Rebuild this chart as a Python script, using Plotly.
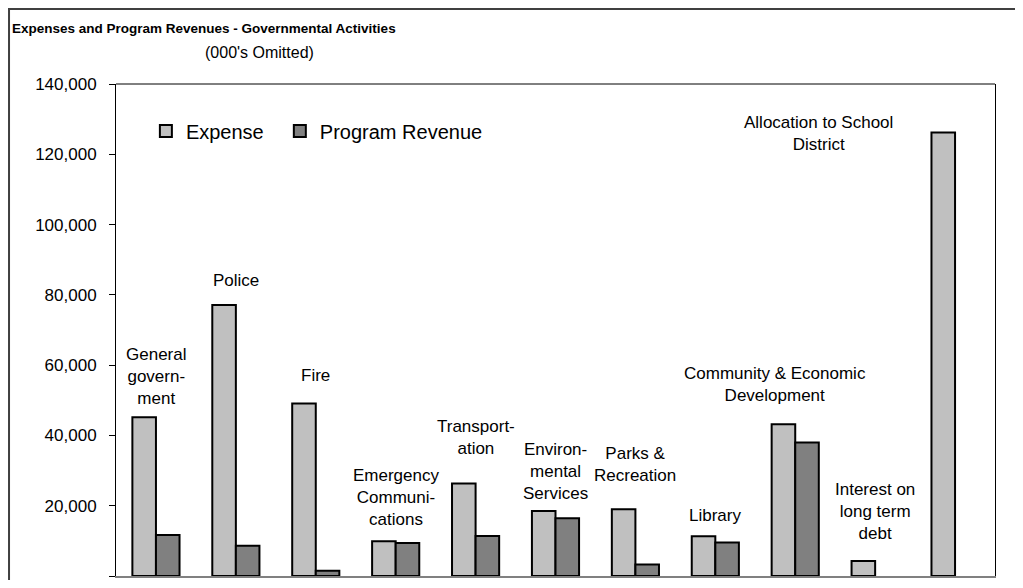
import plotly.graph_objects as go

categories = [
    "General government", "Police", "Fire", "Emergency Communications",
    "Transportation", "Environmental Services", "Parks & Recreation", "Library",
    "Community & Economic Development", "Interest on long term debt",
    "Allocation to School District",
]
expense = [45200, 77100, 49100, 9900, 26300, 18500, 19000, 11300, 43200, 4300, 126200]
# no program revenue bar is drawn for the last two functions
program_revenue = [11700, 8600, 1500, 9400, 11400, 16400, 3300, 9500, 38000, None, None]

# how each label is broken over lines in the original chart
label_text = [
    "General<br>govern-<br>ment", "Police", "Fire", "Emergency<br>Communi-<br>cations",
    "Transport-<br>ation", "Environ-<br>mental<br>Services", "Parks &<br>Recreation",
    "Library", "Community & Economic<br>Development", "Interest on<br>long term<br>debt",
    "Allocation to School<br>District",
]

y_ticks = [0, 20000, 40000, 60000, 80000, 100000, 120000, 140000]
y_tick_text = ["-\u00a0", "20,000", "40,000", "60,000", "80,000", "100,000", "120,000", "140,000"]

# label placement (bottom of text block in data units, horizontal nudge in px)
label_y = [47200, 80800, 53800, 12800, 33000, 20200, 25300, 13900, 48100, 8800, 119500]
label_shift = [0, 0, 0, 0, 0, 0, 0, 0, -20, 0, -137]

FONT = "Liberation Sans, Arial, sans-serif"

fig = go.Figure()
# trailing spaces widen the first legend entry like the original
fig.add_bar(x=categories, y=expense, name="Expense\u00a0\u00a0",
            marker=dict(color="#C0C0C0", line=dict(color="black", width=2)))
fig.add_bar(x=categories, y=program_revenue, name="Program Revenue",
            marker=dict(color="#808080", line=dict(color="black", width=2)))

for cat, txt, ly, dx in zip(categories, label_text, label_y, label_shift):
    fig.add_annotation(x=cat, y=ly, text=txt, showarrow=False, xshift=dx,
                       yanchor="bottom", font=dict(size=17, color="black"))

fig.add_annotation(xref="paper", yref="paper", x=-0.1206, y=1.1138, xanchor="left", yanchor="middle",
                   text="<b>Expenses and Program Revenues - Governmental Activities</b>",
                   showarrow=False, font=dict(size=13.5, color="black"))
fig.add_annotation(xref="paper", yref="paper", x=0.1627, y=1.065, xanchor="center", yanchor="middle",
                   text="(000's Omitted)", showarrow=False, font=dict(size=16, color="black"))

# outer chart border (runs off the right and bottom edges) and top edge of the plot frame
fig.add_shape(type="rect", xref="paper", yref="paper", x0=-0.1217, y0=-0.1, x1=1.2, y1=1.1524,
              line=dict(color="#404040", width=2))
fig.add_shape(type="line", xref="paper", yref="paper", x0=0, y0=1, x1=1, y1=1,
              line=dict(color="black", width=1))

# page body adds an 8px offset, so the figure is sized to fit the window
fig.update_layout(
    width=1007, height=572,
    margin=dict(l=108, r=20, t=76, b=4),
    paper_bgcolor="white", plot_bgcolor="white",
    font=dict(family=FONT, color="black"),
    barmode="group", bargap=0.41, bargroupgap=0,
    showlegend=True,
    legend=dict(orientation="h", x=0.034, y=0.944, xanchor="left", yanchor="top",
                font=dict(size=20), bgcolor="rgba(0,0,0,0)", tracegroupgap=0),
)
fig.update_xaxes(showticklabels=False, showline=True, linecolor="#808080", linewidth=2,
                 ticks="", showgrid=False)
fig.update_yaxes(range=[0, 140000], tickvals=y_ticks, ticktext=y_tick_text, showgrid=False,
                 zeroline=False, showline=True, linecolor="black", linewidth=1, mirror=True,
                 ticks="outside", ticklen=6, tickcolor="black", tickfont=dict(size=17),
                 ticklabelstandoff=9)

fig.write_html("out.html")
